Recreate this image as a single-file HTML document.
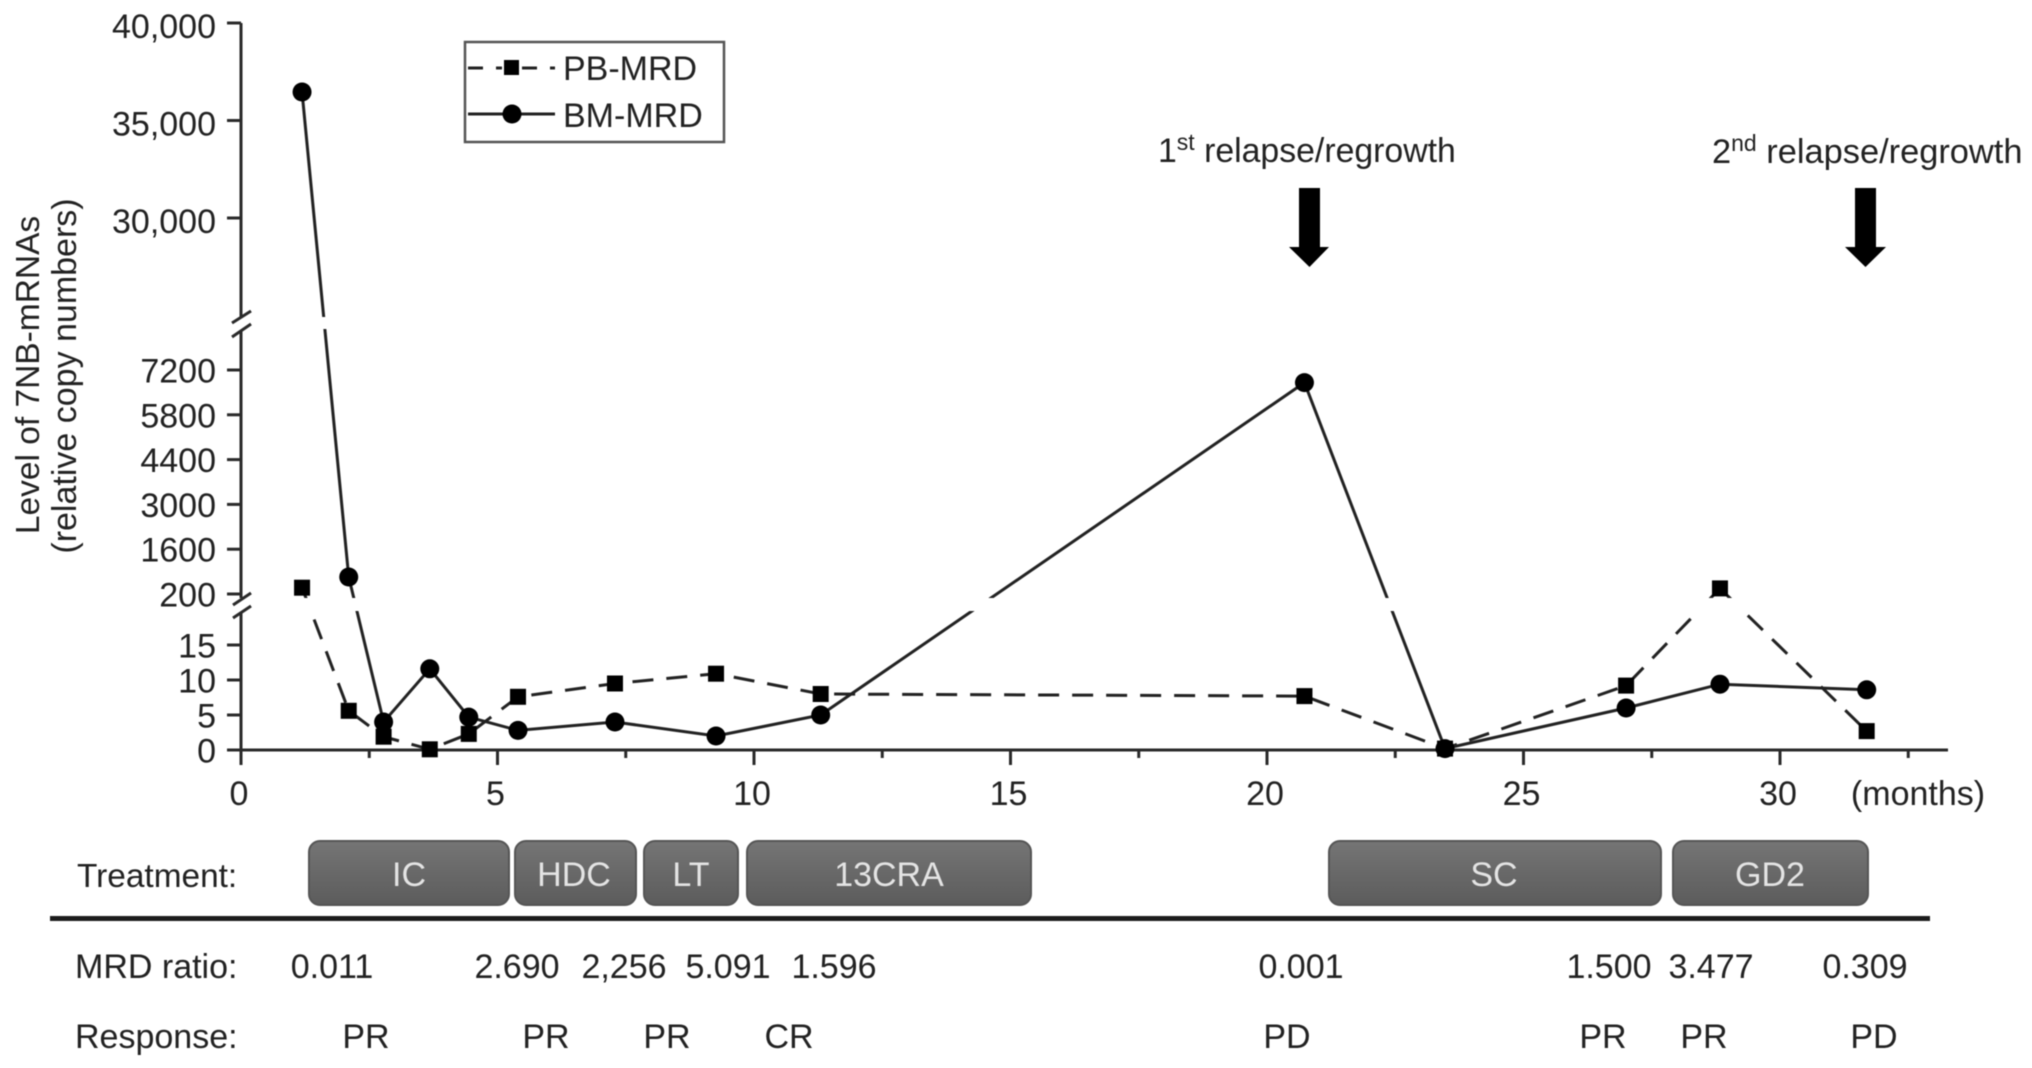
<!DOCTYPE html>
<html lang="en">
<head>
<meta charset="utf-8">
<title>7NB-mRNA MRD levels over treatment</title>
<style>
  html, body { margin: 0; padding: 0; background: #fff; }
  svg { display: block; filter: blur(0.55px); }
  text { font-family: "Liberation Sans", sans-serif; font-size: 34px; fill: #222; }
</style>
</head>
<body>
<svg id="chart" xmlns="http://www.w3.org/2000/svg" width="2032" height="1068" viewBox="0 0 2032 1068">
  <defs>
    <linearGradient id="boxFill" x1="0" y1="0" x2="0" y2="1">
      <stop offset="0" stop-color="#757575"/>
      <stop offset="1" stop-color="#5c5c5c"/>
    </linearGradient>
  </defs>
  <rect width="2032" height="1068" fill="#fff"/>

  <g>
    <text text-anchor="middle" transform="translate(39 375) rotate(-90)" style="font-size:33.5px">Level of 7NB-mRNAs</text>
    <text text-anchor="middle" transform="translate(76 376) rotate(-90)">(relative copy numbers)</text>
  </g>

  <g id="axes" stroke="#2a2a2a" stroke-width="3" fill="none">
    <path d="M241 23V318M241 330V598M241 612V750"/>
    <path d="M227 750H1948"/>
    <path d="M232 323L251 311M232 337L251 324"/>
    <path d="M233 605L251 593M233 618L251 606"/>
  </g>
  <g id="yTicks"></g>
  <g id="xTicks"></g>
  <text x="1918" y="805" text-anchor="middle">(months)</text>

  <g id="lines"></g>
  <rect x="255" y="317" width="1700" height="12" fill="#fff"/>
  <rect x="255" y="598" width="1700" height="13" fill="#fff"/>
  <g id="marks"></g>

  <g>
    <rect x="465" y="42" width="259" height="100" fill="#fff" stroke="#555" stroke-width="2.5"/>
    <path d="M468 68H483M496 68H502M522 68H537M550 68H555" stroke="#222" stroke-width="3" fill="none"/>
    <rect x="504" y="60" width="15" height="15" fill="#000"/>
    <text x="563" y="80">PB-MRD</text>
    <path d="M468 114H555" stroke="#222" stroke-width="3" fill="none"/>
    <circle cx="512" cy="114" r="9.5" fill="#000"/>
    <text x="563" y="127">BM-MRD</text>
  </g>

  <g>
    <text x="1158" y="162" style="font-size:33.8px">1<tspan font-size="23" dy="-12">st</tspan><tspan dy="12"> relapse/regrowth</tspan></text>
    <polygon points="1299,188 1320,188 1320,247 1329,247 1309.5,267 1289,247 1299,247" fill="#000"/>
  </g>
  <g>
    <text x="1712" y="163" style="font-size:34.4px">2<tspan font-size="23" dy="-12">nd</tspan><tspan dy="12"> relapse/regrowth</tspan></text>
    <polygon points="1855,188 1876,188 1876,247 1886,247 1865.5,267 1845,247 1855,247" fill="#000"/>
  </g>

  <text x="77" y="887" style="font-size:33.4px">Treatment:</text>
  <g stroke="#555" stroke-width="2" fill="url(#boxFill)">
    <rect x="309" y="841" width="200" height="64" rx="11"/>
    <rect x="515" y="841" width="121" height="64" rx="11"/>
    <rect x="644" y="841" width="94" height="64" rx="11"/>
    <rect x="747" y="841" width="284" height="64" rx="11"/>
    <rect x="1329" y="841" width="332" height="64" rx="11"/>
    <rect x="1673" y="841" width="195" height="64" rx="11"/>
  </g>
  <g text-anchor="middle">
    <text x="409" y="886" style="fill:#e4e4e4">IC</text>
    <text x="574" y="886" style="fill:#e4e4e4">HDC</text>
    <text x="691" y="886" style="fill:#e4e4e4">LT</text>
    <text x="889" y="886" style="fill:#e4e4e4">13CRA</text>
    <text x="1494" y="886" style="fill:#e4e4e4">SC</text>
    <text x="1770" y="886" style="fill:#e4e4e4">GD2</text>
  </g>
  <rect x="50" y="916" width="1880" height="5" fill="#1c1c1c"/>

  <text x="75" y="978">MRD ratio:</text>
  <g text-anchor="middle">
    <text x="332" y="978">0.011</text>
    <text x="517" y="978">2.690</text>
    <text x="624" y="978">2,256</text>
    <text x="728" y="978">5.091</text>
    <text x="834" y="978">1.596</text>
    <text x="1301" y="978">0.001</text>
    <text x="1609" y="978">1.500</text>
    <text x="1711" y="978">3.477</text>
    <text x="1865" y="978">0.309</text>
  </g>
  <text x="75" y="1048">Response:</text>
  <g text-anchor="middle">
    <text x="366" y="1048">PR</text>
    <text x="546" y="1048">PR</text>
    <text x="667" y="1048">PR</text>
    <text x="789" y="1048">CR</text>
    <text x="1287" y="1048">PD</text>
    <text x="1603" y="1048">PR</text>
    <text x="1704" y="1048">PR</text>
    <text x="1874" y="1048">PD</text>
  </g>
</svg>
<script>
const months = [1.19, 2.10, 2.78, 3.68, 4.44, 5.40, 7.29, 9.26, 11.30, 20.73, 23.47, 27.0, 28.83, 31.69];
const pbMrd = [397, 5.6, 1.9, 0.1, 2.3, 7.6, 9.5, 10.9, 8.0, 7.7, 0.2, 9.2, 375, 2.7];
const bmMrd = [36460, 731, 4, 11.6, 4.7, 2.8, 4, 2, 5.0, 6806, 0.2, 6, 9.4, 8.6];
const yTickValues = [0, 5, 10, 15, 200, 1600, 3000, 4400, 5800, 7200, 30000, 35000, 40000];
const yTickLabels = ['0', '5', '10', '15', '200', '1600', '3000', '4400', '5800', '7200', '30,000', '35,000', '40,000'];
const xMajorTicks = [0, 5, 10, 15, 20, 25, 30];
const xMinorTicks = [2.5, 7.5, 12.5, 17.5, 22.5, 27.5, 32.5];

const NS = 'http://www.w3.org/2000/svg';

function xScale(m) {
  return 241 + 51.3 * m;
}

function yScale(v) {
  if (v <= 20) return 750 - 7 * v;
  if (v <= 200) return 610 - (v - 20) * (16 / 180);
  if (v <= 7200) return 594 - (v - 200) * 0.032;
  if (v <= 30000) return 370 - (v - 7200) * (152 / 22800);
  return 218 - (v - 30000) * 0.0195;
}

function make(tag, parentId) {
  const el = document.createElementNS(NS, tag);
  document.getElementById(parentId).appendChild(el);
  return el;
}

yTickValues.forEach(function (v, i) {
  const tick = make('line', 'yTicks');
  
  
  tick.setAttribute('x1', 227);
  tick.setAttribute('x2', 241);
  tick.setAttribute('y1', yScale(v));
  tick.setAttribute('y2', yScale(v));
  tick.setAttribute('stroke', '#2a2a2a');
  tick.setAttribute('stroke-width', 3);
  const label = make('text', 'yTicks');
  
  
  label.setAttribute('x', 216);
  label.setAttribute('y', yScale(v) + (v >= 30000 ? 15 : 12.5));
  label.setAttribute('text-anchor', 'end');
  label.textContent = yTickLabels[i];
});

xMajorTicks.forEach(function (m) {
  const tick = make('line', 'xTicks');
  
  
  tick.setAttribute('x1', xScale(m));
  tick.setAttribute('x2', xScale(m));
  tick.setAttribute('y1', 750);
  tick.setAttribute('y2', 765);
  tick.setAttribute('stroke', '#2a2a2a');
  tick.setAttribute('stroke-width', 3);
  const label = make('text', 'xTicks');
  
  
  label.setAttribute('x', xScale(m) - 2);
  label.setAttribute('y', 805);
  label.setAttribute('text-anchor', 'middle');
  label.textContent = String(m);
});

xMinorTicks.forEach(function (m) {
  const tick = make('line', 'xTicks');
  
  
  tick.setAttribute('x1', xScale(m));
  tick.setAttribute('x2', xScale(m));
  tick.setAttribute('y1', 750);
  tick.setAttribute('y2', 758);
  tick.setAttribute('stroke', '#2a2a2a');
  tick.setAttribute('stroke-width', 3);
});

function polyPoints(values) {
  return values.map(function (v, i) {
    return xScale(months[i]) + ',' + yScale(v);
  }).join(' ');
}

const pbLine = make('polyline', 'lines');


pbLine.setAttribute('points', polyPoints(pbMrd));
pbLine.setAttribute('fill', 'none');
pbLine.setAttribute('stroke', '#222');
pbLine.setAttribute('stroke-width', 3);
pbLine.setAttribute('stroke-dasharray', '21 13');

const bmLine = make('polyline', 'lines');


bmLine.setAttribute('points', polyPoints(bmMrd));
bmLine.setAttribute('fill', 'none');
bmLine.setAttribute('stroke', '#222');
bmLine.setAttribute('stroke-width', 3);

pbMrd.forEach(function (v, i) {
  const square = make('rect', 'marks');
  
  
  square.setAttribute('x', xScale(months[i]) - 8);
  square.setAttribute('y', yScale(v) - 8);
  square.setAttribute('width', 16);
  square.setAttribute('height', 16);
  square.setAttribute('fill', '#000');
});

bmMrd.forEach(function (v, i) {
  const dot = make('circle', 'marks');
  
  
  dot.setAttribute('cx', xScale(months[i]));
  dot.setAttribute('cy', yScale(v));
  dot.setAttribute('r', 9.5);
  dot.setAttribute('fill', '#000');
});
</script>
</body>
</html>
